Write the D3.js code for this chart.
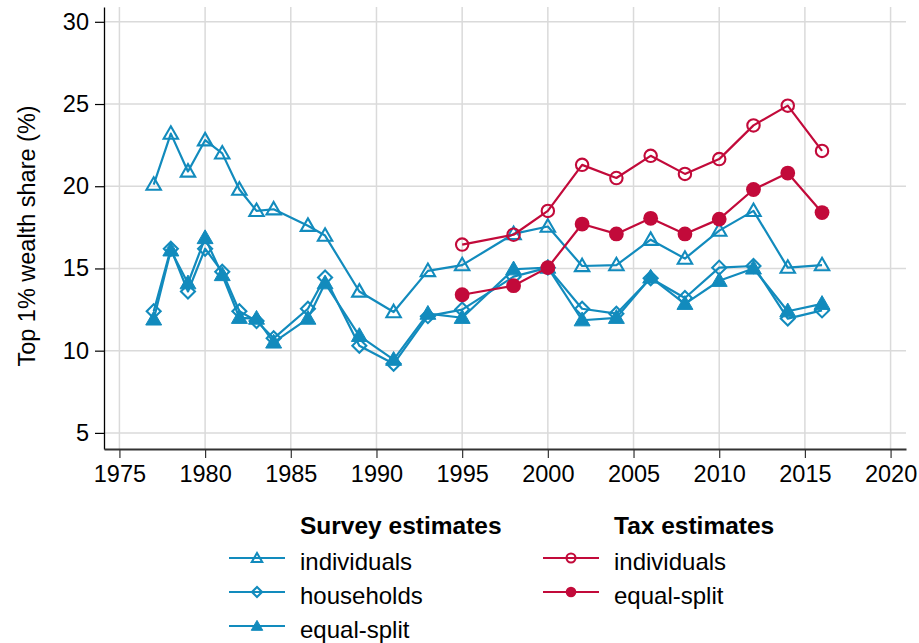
<!DOCTYPE html>
<html>
<style>
body { margin: 0; background: #fff; }
text { font-family: "Liberation Sans", Arial, sans-serif; fill: #000; }
</style>
<body>
<script src="https://cdn.jsdelivr.net/npm/d3@7"></script>
<script>
// data
var surveyYears = [1977, 1978, 1979, 1980, 1981, 1982, 1983, 1984, 1986, 1987, 1989, 1991,
  1993, 1995, 1998, 2000, 2002, 2004, 2006, 2008, 2010, 2012, 2014, 2016];
var surveyIndividuals = [20.1, 23.2, 20.9, 22.8, 22.0, 19.8, 18.5, 18.6, 17.6, 17.0, 13.6, 12.35,
  14.85, 15.2, 17.1, 17.55, 15.15, 15.2, 16.75, 15.6, 17.3, 18.5, 15.05, 15.2];
var surveyHouseholds = [12.4, 16.2, 13.6, 16.2, 14.8, 12.4, 11.8, 10.75, 12.55, 14.45, 10.3, 9.2,
  12.1, 12.5, 14.5, 15.05, 12.55, 12.25, 14.4, 13.2, 15.05, 15.15, 11.95, 12.45];
var surveyEqualSplit = [11.9, 16.1, 14.1, 16.85, 14.6, 12.0, 11.95, 10.5, 11.95, 14.1, 10.9, 9.45,
  12.25, 12.0, 14.95, 15.05, 11.85, 12.0, 14.45, 12.85, 14.25, 15.0, 12.4, 12.85];
var taxYears = [1995, 1998, 2000, 2002, 2004, 2006, 2008, 2010, 2012, 2014, 2016];
var taxIndividuals = [16.45, 17.05, 18.5, 21.3, 20.5, 21.85, 20.75, 21.65, 23.7, 24.9, 22.15];
var taxEqualSplit = [13.4, 13.95, 15.05, 17.7, 17.1, 18.05, 17.1, 18.0, 19.8, 20.8, 18.4];
var xTicks = [1975, 1980, 1985, 1990, 1995, 2000, 2005, 2010, 2015, 2020];
var yTicks = [5, 10, 15, 20, 25, 30];

var blue = "#128bbd";
var red = "#c20a3a";

var width = 919, height = 643;
var svg = d3.select("body").append("svg")
  .attr("width", width)
  .attr("height", height);

var x = d3.scaleLinear().domain([1974.1, 2020.9]).range([104, 906]);
var y = d3.scaleLinear().domain([4.02, 30.9]).range([449, 7]);

// grid
svg.append("g").selectAll("line").data(xTicks).enter().append("line")
  .attr("x1", d => x(d)).attr("x2", d => x(d))
  .attr("y1", y.range()[0]).attr("y2", y.range()[1])
  .attr("stroke", "#dadada").attr("stroke-width", 1.5);
svg.append("g").selectAll("line").data(yTicks).enter().append("line")
  .attr("x1", x.range()[0]).attr("x2", x.range()[1])
  .attr("y1", d => y(d)).attr("y2", d => y(d))
  .attr("stroke", "#dadada").attr("stroke-width", 1.5);

// axes
var yAxis = svg.append("g")
  .attr("transform", "translate(" + x.range()[0] + ",0)")
  .call(d3.axisLeft(y).tickValues(yTicks).tickSize(9).tickPadding(6).tickSizeOuter(0));
yAxis.select(".domain").attr("stroke", "#000").attr("stroke-width", 1.3);
yAxis.selectAll(".tick line").attr("stroke", "#000").attr("stroke-width", 1.2);
yAxis.selectAll("text").style("font-size", "23.5px").style("font-family", "Liberation Sans, Arial, sans-serif").attr("fill", "#000");

var xAxis = svg.append("g")
  .attr("transform", "translate(0," + y.range()[0] + ")")
  .call(d3.axisBottom(x).tickValues(xTicks).tickFormat(d3.format("d")).tickSize(9).tickPadding(7).tickSizeOuter(0));
xAxis.select(".domain").attr("stroke", "#333").attr("stroke-width", 2.2);
xAxis.selectAll(".tick line").attr("stroke", "#333").attr("stroke-width", 1.2);
xAxis.selectAll("text").style("font-size", "23.5px").style("font-family", "Liberation Sans, Arial, sans-serif").attr("fill", "#000");

svg.append("text")
  .attr("transform", "translate(35,236) rotate(-90)")
  .attr("text-anchor", "middle")
  .style("font-size", "23.5px")
  .text("Top 1% wealth share (%)");

// series
var triangleUp = d3.symbol().type(d3.symbolTriangle);
var square = d3.symbol().type(d3.symbolSquare);
var series = [
  { years: surveyYears, values: surveyIndividuals, color: blue, marker: "triHollow" },
  { years: surveyYears, values: surveyHouseholds, color: blue, marker: "diamond" },
  { years: surveyYears, values: surveyEqualSplit, color: blue, marker: "triFilled" },
  { years: taxYears, values: taxIndividuals, color: red, marker: "circleHollow" },
  { years: taxYears, values: taxEqualSplit, color: red, marker: "circleFilled" }
];

function drawMarker(g, kind, color, scale) {
  if (kind === "triHollow") {
    g.append("path").attr("d", triangleUp.size(90 * scale * scale)())
      .attr("transform", "translate(0,1)")
      .attr("fill", "none").attr("stroke", color).attr("stroke-width", 2.1);
  } else if (kind === "triFilled") {
    g.append("path").attr("d", triangleUp.size(110 * scale * scale)())
      .attr("transform", "translate(0,1)")
      .attr("fill", color).attr("stroke", color).attr("stroke-width", 1);
  } else if (kind === "diamond") {
    g.append("path").attr("d", square.size(98 * scale * scale)())
      .attr("transform", "rotate(45)")
      .attr("fill", "none").attr("stroke", color).attr("stroke-width", 2.1);
  } else if (kind === "circleHollow") {
    g.append("circle").attr("r", 6.2 * scale)
      .attr("fill", "none").attr("stroke", color).attr("stroke-width", 2.1);
  } else {
    g.append("circle").attr("r", 7.4 * scale).attr("fill", color);
  }
}

var line = d3.line().x(d => x(d[0])).y(d => y(d[1]));

series.forEach(function (s) {
  var pts = s.years.map((yr, i) => [yr, s.values[i]]);
  var g = svg.append("g");
  g.append("path").datum(pts)
    .attr("d", line)
    .attr("fill", "none")
    .attr("stroke", s.color)
    .attr("stroke-width", 2.2)
    .attr("stroke-linejoin", "round");
  g.selectAll("g.m").data(pts).enter().append("g")
    .attr("class", "m")
    .attr("transform", d => "translate(" + x(d[0]) + "," + y(d[1]) + ")")
    .each(function () { drawMarker(d3.select(this), s.marker, s.color, 1); });
});

// legend
var legendCols = [
  { title: "Survey estimates", lineX: 229, textX: 300, color: blue,
    items: [["individuals", "triHollow"], ["households", "diamond"], ["equal-split", "triFilled"]] },
  { title: "Tax estimates", lineX: 543, textX: 614, color: red,
    items: [["individuals", "circleHollow"], ["equal-split", "circleFilled"]] }
];
var rowY = [558, 592, 626];

legendCols.forEach(function (c) {
  var lg = svg.append("g");
  lg.append("text").attr("x", c.textX).attr("y", 534)
    .style("font-size", "24.5px").style("font-weight", "bold")
    .text(c.title);
  c.items.forEach(function (it, i) {
    lg.append("line")
      .attr("x1", c.lineX).attr("x2", c.lineX + 56)
      .attr("y1", rowY[i]).attr("y2", rowY[i])
      .attr("stroke", c.color).attr("stroke-width", 2);
    var mg = lg.append("g").attr("transform", "translate(" + (c.lineX + 28) + "," + rowY[i] + ")");
    drawMarker(mg, it[1], c.color, 0.72);
    lg.append("text").attr("x", c.textX).attr("y", rowY[i] + 12)
      .style("font-size", "24px")
      .text(it[0]);
  });
});
</script>
</body>
</html>
